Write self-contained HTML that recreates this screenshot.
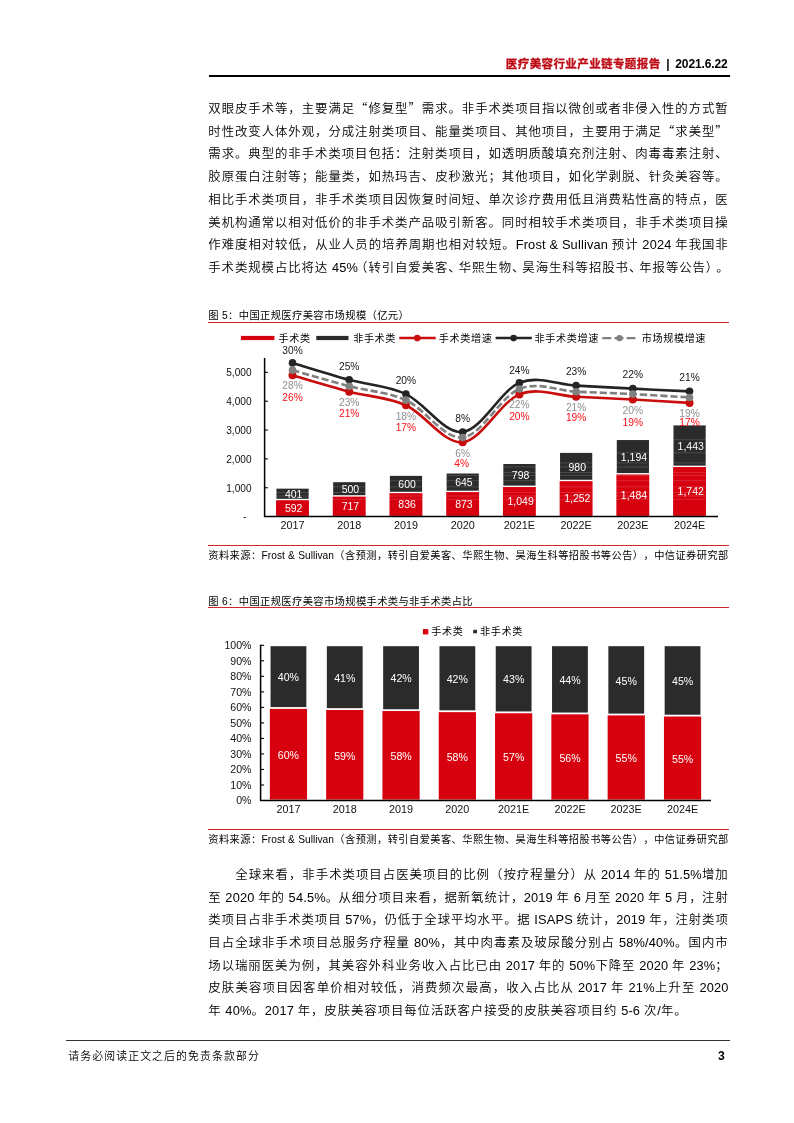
<!DOCTYPE html>
<html lang="zh-CN"><head><meta charset="utf-8"><title>医疗美容行业产业链专题报告</title>
<style>
html,body{margin:0;padding:0;background:#fff}
body{width:794px;height:1123px;position:relative;overflow:hidden;text-spacing-trim:space-all;font-family:"Liberation Sans","Noto Sans CJK SC",sans-serif;color:#000}
.l{position:absolute;left:208.3px;width:520.4px;height:22px;line-height:22px;font-size:12.4px;letter-spacing:0.93px;font-weight:350;text-align:justify;text-align-last:justify;white-space:nowrap;color:#000}
.e{font-size:12.8px;letter-spacing:0.17px;font-weight:400}
.l.last{text-align:left;text-align-last:left}
.h{font-family:"Noto Sans CJK SC",sans-serif}
.hdr{position:absolute;right:66.4px;top:53.6px;height:20px;line-height:20px;font-size:12px;letter-spacing:-0.12px;font-weight:bold;white-space:nowrap;color:#000}
.hdr b{color:#be0a14;font-weight:bold;font-size:11.5px;letter-spacing:0.4px;-webkit-text-stroke:0.3px #be0a14;position:relative;left:-1px;top:0.4px}
.hdr i{font-style:normal;margin:0 2.7px 0 1.4px}
.hr{position:absolute;left:208.6px;width:521.1px;top:74.8px;height:1.9px;background:#000}
.cap{position:absolute;left:208.2px;height:16px;line-height:16px;font-size:10.3px;letter-spacing:0.35px;white-space:nowrap;color:#000}
.rr{position:absolute;left:207.7px;width:521px;height:1.1px;background:#d1262f}
.src{position:absolute;left:208.3px;width:520px;height:16px;line-height:16px;font-size:10.2px;white-space:nowrap;color:#000;text-align:justify;text-align-last:justify}
.fr{position:absolute;left:66px;width:663.8px;top:1039.8px;height:1.3px;background:#333}
.ft{position:absolute;left:68.2px;top:1046.8px;height:18px;line-height:18px;font-size:10.9px;letter-spacing:1.1px;font-weight:350;color:#000;white-space:nowrap}
.pn{position:absolute;right:69.2px;top:1046.6px;height:18px;line-height:18px;font-size:12.2px;font-weight:bold;color:#000}
svg{position:absolute;left:0;top:0}
svg text{font-family:"Liberation Sans","Noto Sans CJK SC",sans-serif}
</style></head><body>
<div class="hdr"><b>医疗美容行业产业链专题报告</b>&nbsp;<i>|</i>&nbsp;2021.6.22</div><div class="hr"></div>
<div class="l" style="top:96.80px">双眼皮手术等<span class="h">，</span>主要满足<span class="h">“</span>修复型<span class="h">”</span>需求<span class="h">。</span>非手术类项目指以微创或者非侵入性的方式暂</div>
<div class="l" style="top:119.56px">时性改变人体外观<span class="h">，</span>分成注射类项目<span class="h">、</span>能量类项目<span class="h">、</span>其他项目<span class="h">，</span>主要用于满足<span class="h">“</span>求美型<span class="h">”</span></div>
<div class="l" style="top:142.32px">需求<span class="h">。</span>典型的非手术类项目包括<span class="h">：</span>注射类项目<span class="h">，</span>如透明质酸填充剂注射<span class="h">、</span>肉毒毒素注射<span class="h">、</span></div>
<div class="l" style="top:165.08px">胶原蛋白注射等<span class="h">；</span>能量类<span class="h">，</span>如热玛吉<span class="h">、</span>皮秒激光<span class="h">；</span>其他项目<span class="h">，</span>如化学剥脱<span class="h">、</span>针灸美容等<span class="h">。</span></div>
<div class="l" style="top:187.84px">相比手术类项目<span class="h">，</span>非手术类项目因恢复时间短<span class="h">、</span>单次诊疗费用低且消费粘性高的特点<span class="h">，</span>医</div>
<div class="l" style="top:210.60px">美机构通常以相对低价的非手术类产品吸引新客<span class="h">。</span>同时相较手术类项目<span class="h">，</span>非手术类项目操</div>
<div class="l" style="top:233.36px">作难度相对较低<span class="h">，</span>从业人员的培养周期也相对较短<span class="h">。</span><span class="e">Frost &amp; Sullivan </span>预计<span class="e"> 2024 </span>年我国非</div>
<div class="l" style="top:256.12px;left:208.3px;width:518.2px">手术类规模占比将达<span class="e"> 45%</span><span class="h" style="margin-left:-2.99px">（</span>转引自爱美客<span class="h" style="margin-right:-2.99px">、</span>华熙生物<span class="h" style="margin-right:-2.99px">、</span>昊海生科等招股书<span class="h" style="margin-right:-2.99px">、</span>年报等公告<span class="h" style="margin-right:-2.99px">）</span><span class="h" style="margin-right:-2.99px">。</span></div>
<div class="l" style="top:862.90px;left:235.3px;width:493.4px">全球来看<span class="h">，</span>非手术类项目占医美项目的比例<span class="h">（</span>按疗程量分<span class="h">）</span>从<span class="e"> 2014 </span>年的<span class="e"> 51.5%</span>增加</div>
<div class="l" style="top:885.55px">至<span class="e"> 2020 </span>年的<span class="e"> 54.5%</span><span class="h" style="margin-right:-0.63px">。</span>从细分项目来看<span class="h" style="margin-right:-0.63px">，</span>据新氧统计<span class="h" style="margin-right:-0.63px">，</span><span class="e">2019 </span>年<span class="e"> 6 </span>月至<span class="e"> 2020 </span>年<span class="e"> 5 </span>月<span class="h" style="margin-right:-0.63px">，</span>注射</div>
<div class="l" style="top:908.20px">类项目占非手术类项目<span class="e"> 57%</span><span class="h" style="margin-right:-0.34px">，</span>仍低于全球平均水平<span class="h" style="margin-right:-0.34px">。</span>据<span class="e"> ISAPS </span>统计<span class="h" style="margin-right:-0.34px">，</span><span class="e">2019 </span>年<span class="h" style="margin-right:-0.34px">，</span>注射类项</div>
<div class="l" style="top:930.85px">目占全球非手术项目总服务疗程量<span class="e"> 80%</span><span class="h">，</span>其中肉毒素及玻尿酸分别占<span class="e"> 58%/40%</span><span class="h">。</span>国内市</div>
<div class="l" style="top:953.50px">场以瑞丽医美为例<span class="h">，</span>其美容外科业务收入占比已由<span class="e"> 2017 </span>年的<span class="e"> 50%</span>下降至<span class="e"> 2020 </span>年<span class="e"> 23%</span><span class="h">；</span></div>
<div class="l" style="top:976.15px">皮肤美容项目因客单价相对较低<span class="h">，</span>消费频次最高<span class="h">，</span>收入占比从<span class="e"> 2017 </span>年<span class="e"> 21%</span>上升至<span class="e"> 2020</span></div>
<div class="l last" style="top:998.80px">年<span class="e"> 40%</span><span class="h">。</span><span class="e">2017 </span>年<span class="h">，</span>皮肤美容项目每位活跃客户接受的皮肤美容项目约<span class="e"> 5-6 </span>次<span class="e">/</span>年<span class="h">。</span></div>
<div class="cap" style="top:308.1px">图 5：中国正规医疗美容市场规模（亿元）</div><div class="rr" style="top:321.9px"></div>
<div class="rr" style="top:544.9px"></div><div class="src" style="top:547.8px">资料来源：Frost &amp; Sullivan（含预测，转引自爱美客、华熙生物、昊海生科等招股书等公告），中信证券研究部</div>
<div class="cap" style="top:593.8px">图 6：中国正规医疗美容市场规模手术类与非手术类占比</div><div class="rr" style="top:607.4px"></div>
<div class="rr" style="top:828.9px"></div><div class="src" style="top:831.8px">资料来源：Frost &amp; Sullivan（含预测，转引自爱美客、华熙生物、昊海生科等招股书等公告），中信证券研究部</div>
<svg width="794" height="1123" viewBox="0 0 794 1123">
<rect x="276.05" y="500.22" width="32.90" height="15.68" fill="#d7000f"/>
<rect x="276.45" y="488.65" width="32.20" height="10.17" fill="#2b2b2b"/>
<path d="M276.05 492.50 h32.90" stroke="#fff" stroke-opacity="0.17" stroke-width="0.9"/>
<path d="M276.05 496.00 h32.90" stroke="#fff" stroke-opacity="0.17" stroke-width="0.9"/>
<text x="293.7" y="512.0" font-size="10.5" fill="#fff" text-anchor="middle">592</text>
<text x="293.7" y="498.0" font-size="10.5" fill="#fff" text-anchor="middle">401</text>
<text x="292.5" y="528.7" font-size="10.8" fill="#111" text-anchor="middle">2017</text>
<rect x="332.77" y="496.61" width="32.90" height="19.29" fill="#d7000f"/>
<rect x="333.17" y="482.19" width="32.20" height="13.03" fill="#2b2b2b"/>
<path d="M332.77 486.80 h32.90" stroke="#fff" stroke-opacity="0.17" stroke-width="0.9"/>
<path d="M332.77 492.50 h32.90" stroke="#fff" stroke-opacity="0.17" stroke-width="0.9"/>
<path d="M332.77 499.30 h32.90" stroke="#fff" stroke-opacity="0.17" stroke-width="0.9"/>
<text x="350.4" y="510.2" font-size="10.5" fill="#fff" text-anchor="middle">717</text>
<text x="350.4" y="493.0" font-size="10.5" fill="#fff" text-anchor="middle">500</text>
<text x="349.2" y="528.7" font-size="10.8" fill="#111" text-anchor="middle">2018</text>
<rect x="389.49" y="493.18" width="32.90" height="22.72" fill="#d7000f"/>
<rect x="389.89" y="475.87" width="32.20" height="15.91" fill="#2b2b2b"/>
<path d="M389.49 480.70 h32.90" stroke="#fff" stroke-opacity="0.17" stroke-width="0.9"/>
<path d="M389.49 486.80 h32.90" stroke="#fff" stroke-opacity="0.17" stroke-width="0.9"/>
<path d="M389.49 496.00 h32.90" stroke="#fff" stroke-opacity="0.17" stroke-width="0.9"/>
<path d="M389.49 499.30 h32.90" stroke="#fff" stroke-opacity="0.17" stroke-width="0.9"/>
<text x="407.1" y="508.4" font-size="10.5" fill="#fff" text-anchor="middle">836</text>
<text x="407.1" y="488.1" font-size="10.5" fill="#fff" text-anchor="middle">600</text>
<text x="405.9" y="528.7" font-size="10.8" fill="#111" text-anchor="middle">2019</text>
<rect x="446.21" y="492.11" width="32.90" height="23.79" fill="#d7000f"/>
<rect x="446.61" y="473.51" width="32.20" height="17.21" fill="#2b2b2b"/>
<path d="M446.21 475.40 h32.90" stroke="#fff" stroke-opacity="0.17" stroke-width="0.9"/>
<path d="M446.21 480.70 h32.90" stroke="#fff" stroke-opacity="0.17" stroke-width="0.9"/>
<path d="M446.21 486.80 h32.90" stroke="#fff" stroke-opacity="0.17" stroke-width="0.9"/>
<path d="M446.21 496.00 h32.90" stroke="#fff" stroke-opacity="0.17" stroke-width="0.9"/>
<path d="M446.21 499.30 h32.90" stroke="#fff" stroke-opacity="0.17" stroke-width="0.9"/>
<text x="463.9" y="507.9" font-size="10.5" fill="#fff" text-anchor="middle">873</text>
<text x="463.9" y="486.4" font-size="10.5" fill="#fff" text-anchor="middle">645</text>
<text x="462.7" y="528.7" font-size="10.8" fill="#111" text-anchor="middle">2020</text>
<rect x="502.93" y="487.04" width="32.90" height="28.86" fill="#d7000f"/>
<rect x="503.33" y="464.01" width="32.20" height="21.62" fill="#2b2b2b"/>
<path d="M502.93 466.90 h32.90" stroke="#fff" stroke-opacity="0.17" stroke-width="0.9"/>
<path d="M502.93 472.60 h32.90" stroke="#fff" stroke-opacity="0.17" stroke-width="0.9"/>
<path d="M502.93 475.40 h32.90" stroke="#fff" stroke-opacity="0.17" stroke-width="0.9"/>
<path d="M502.93 480.70 h32.90" stroke="#fff" stroke-opacity="0.17" stroke-width="0.9"/>
<path d="M502.93 492.50 h32.90" stroke="#fff" stroke-opacity="0.17" stroke-width="0.9"/>
<path d="M502.93 496.00 h32.90" stroke="#fff" stroke-opacity="0.17" stroke-width="0.9"/>
<path d="M502.93 499.30 h32.90" stroke="#fff" stroke-opacity="0.17" stroke-width="0.9"/>
<text x="520.6" y="505.4" font-size="10.5" fill="#fff" text-anchor="middle">1,049</text>
<text x="520.6" y="479.1" font-size="10.5" fill="#fff" text-anchor="middle">798</text>
<text x="519.4" y="528.7" font-size="10.8" fill="#111" text-anchor="middle">2021E</text>
<rect x="559.65" y="481.18" width="32.90" height="34.72" fill="#d7000f"/>
<rect x="560.05" y="452.91" width="32.20" height="26.87" fill="#2b2b2b"/>
<path d="M559.65 462.90 h32.90" stroke="#fff" stroke-opacity="0.17" stroke-width="0.9"/>
<path d="M559.65 466.90 h32.90" stroke="#fff" stroke-opacity="0.17" stroke-width="0.9"/>
<path d="M559.65 472.60 h32.90" stroke="#fff" stroke-opacity="0.17" stroke-width="0.9"/>
<path d="M559.65 475.40 h32.90" stroke="#fff" stroke-opacity="0.17" stroke-width="0.9"/>
<path d="M559.65 486.80 h32.90" stroke="#fff" stroke-opacity="0.17" stroke-width="0.9"/>
<path d="M559.65 492.50 h32.90" stroke="#fff" stroke-opacity="0.17" stroke-width="0.9"/>
<path d="M559.65 496.00 h32.90" stroke="#fff" stroke-opacity="0.17" stroke-width="0.9"/>
<path d="M559.65 499.30 h32.90" stroke="#fff" stroke-opacity="0.17" stroke-width="0.9"/>
<text x="577.3" y="502.4" font-size="10.5" fill="#fff" text-anchor="middle">1,252</text>
<text x="577.3" y="470.6" font-size="10.5" fill="#fff" text-anchor="middle">980</text>
<text x="576.1" y="528.7" font-size="10.8" fill="#111" text-anchor="middle">2022E</text>
<rect x="616.37" y="474.49" width="32.90" height="41.41" fill="#d7000f"/>
<rect x="616.77" y="440.04" width="32.20" height="33.05" fill="#2b2b2b"/>
<path d="M616.37 452.80 h32.90" stroke="#fff" stroke-opacity="0.17" stroke-width="0.9"/>
<path d="M616.37 462.90 h32.90" stroke="#fff" stroke-opacity="0.17" stroke-width="0.9"/>
<path d="M616.37 466.90 h32.90" stroke="#fff" stroke-opacity="0.17" stroke-width="0.9"/>
<path d="M616.37 475.40 h32.90" stroke="#fff" stroke-opacity="0.17" stroke-width="0.9"/>
<path d="M616.37 480.70 h32.90" stroke="#fff" stroke-opacity="0.17" stroke-width="0.9"/>
<path d="M616.37 486.80 h32.90" stroke="#fff" stroke-opacity="0.17" stroke-width="0.9"/>
<path d="M616.37 492.50 h32.90" stroke="#fff" stroke-opacity="0.17" stroke-width="0.9"/>
<path d="M616.37 496.00 h32.90" stroke="#fff" stroke-opacity="0.17" stroke-width="0.9"/>
<path d="M616.37 499.30 h32.90" stroke="#fff" stroke-opacity="0.17" stroke-width="0.9"/>
<text x="634.0" y="499.1" font-size="10.5" fill="#fff" text-anchor="middle">1,484</text>
<text x="634.0" y="460.9" font-size="10.5" fill="#fff" text-anchor="middle">1,194</text>
<text x="632.8" y="528.7" font-size="10.8" fill="#111" text-anchor="middle">2023E</text>
<rect x="673.09" y="467.04" width="32.90" height="48.86" fill="#d7000f"/>
<rect x="673.49" y="425.41" width="32.20" height="40.23" fill="#2b2b2b"/>
<path d="M673.09 439.70 h32.90" stroke="#fff" stroke-opacity="0.17" stroke-width="0.9"/>
<path d="M673.09 452.80 h32.90" stroke="#fff" stroke-opacity="0.17" stroke-width="0.9"/>
<path d="M673.09 462.90 h32.90" stroke="#fff" stroke-opacity="0.17" stroke-width="0.9"/>
<path d="M673.09 472.60 h32.90" stroke="#fff" stroke-opacity="0.17" stroke-width="0.9"/>
<path d="M673.09 475.40 h32.90" stroke="#fff" stroke-opacity="0.17" stroke-width="0.9"/>
<path d="M673.09 480.70 h32.90" stroke="#fff" stroke-opacity="0.17" stroke-width="0.9"/>
<path d="M673.09 486.80 h32.90" stroke="#fff" stroke-opacity="0.17" stroke-width="0.9"/>
<path d="M673.09 492.50 h32.90" stroke="#fff" stroke-opacity="0.17" stroke-width="0.9"/>
<path d="M673.09 496.00 h32.90" stroke="#fff" stroke-opacity="0.17" stroke-width="0.9"/>
<path d="M673.09 499.30 h32.90" stroke="#fff" stroke-opacity="0.17" stroke-width="0.9"/>
<text x="690.7" y="495.4" font-size="10.5" fill="#fff" text-anchor="middle">1,742</text>
<text x="690.7" y="449.8" font-size="10.5" fill="#fff" text-anchor="middle">1,443</text>
<text x="689.5" y="528.7" font-size="10.8" fill="#111" text-anchor="middle">2024E</text>
<path d="M264.6 357.9 V516.6 H718.0" fill="none" stroke="#000" stroke-width="1.5"/>
<path d="M264.6 487.75 h3.3" stroke="#000" stroke-width="1.1"/>
<text x="251.5" y="491.6" font-size="10.1" fill="#111" text-anchor="end">1,000</text>
<path d="M264.6 458.90 h3.3" stroke="#000" stroke-width="1.1"/>
<text x="251.5" y="462.7" font-size="10.1" fill="#111" text-anchor="end">2,000</text>
<path d="M264.6 430.05 h3.3" stroke="#000" stroke-width="1.1"/>
<text x="251.5" y="433.9" font-size="10.1" fill="#111" text-anchor="end">3,000</text>
<path d="M264.6 401.20 h3.3" stroke="#000" stroke-width="1.1"/>
<text x="251.5" y="405.0" font-size="10.1" fill="#111" text-anchor="end">4,000</text>
<path d="M264.6 372.35 h3.3" stroke="#000" stroke-width="1.1"/>
<text x="251.5" y="376.2" font-size="10.1" fill="#111" text-anchor="end">5,000</text>
<text x="246.3" y="519.8" font-size="10.1" fill="#111" text-anchor="end">-</text>
<path d="M292.50 375.30 C301.95 378.03 330.31 386.67 349.22 391.67 C368.13 396.67 387.03 396.87 405.94 405.30 C424.85 413.74 443.75 444.09 462.66 442.27 C481.57 440.45 500.47 401.97 519.38 394.39 C538.29 386.82 557.19 395.96 576.10 396.82 C595.01 397.68 613.91 398.53 632.82 399.54 C651.73 400.55 680.09 402.32 689.54 402.88" fill="none" stroke="#c90c0c" stroke-width="2.6" stroke-linejoin="round"/>
<circle cx="292.50" cy="375.30" r="4.0" fill="#c90c0c"/>
<circle cx="349.22" cy="391.67" r="4.0" fill="#c90c0c"/>
<circle cx="405.94" cy="405.30" r="4.0" fill="#c90c0c"/>
<circle cx="462.66" cy="442.27" r="4.0" fill="#c90c0c"/>
<circle cx="519.38" cy="394.39" r="4.0" fill="#c90c0c"/>
<circle cx="576.10" cy="396.82" r="4.0" fill="#c90c0c"/>
<circle cx="632.82" cy="399.54" r="4.0" fill="#c90c0c"/>
<circle cx="689.54" cy="402.88" r="4.0" fill="#c90c0c"/>
<path d="M292.50 362.89 C301.95 365.72 330.31 374.66 349.22 379.86 C368.13 385.06 387.03 385.41 405.94 394.10 C424.85 402.79 443.75 433.84 462.66 431.97 C481.57 430.11 500.47 390.62 519.38 382.89 C538.29 375.16 557.19 384.66 576.10 385.62 C595.01 386.58 613.91 387.69 632.82 388.65 C651.73 389.61 680.09 390.92 689.54 391.37" fill="none" stroke="#242424" stroke-width="2.6" stroke-linejoin="round"/>
<circle cx="292.50" cy="362.89" r="3.8" fill="#242424"/>
<circle cx="349.22" cy="379.86" r="3.8" fill="#242424"/>
<circle cx="405.94" cy="394.10" r="3.8" fill="#242424"/>
<circle cx="462.66" cy="431.97" r="3.8" fill="#242424"/>
<circle cx="519.38" cy="382.89" r="3.8" fill="#242424"/>
<circle cx="576.10" cy="385.62" r="3.8" fill="#242424"/>
<circle cx="632.82" cy="388.65" r="3.8" fill="#242424"/>
<circle cx="689.54" cy="391.37" r="3.8" fill="#242424"/>
<path d="M292.50 370.16 C301.95 372.84 330.31 381.22 349.22 386.22 C368.13 391.22 387.03 391.63 405.94 400.16 C424.85 408.69 443.75 439.30 462.66 437.43 C481.57 435.56 500.47 396.57 519.38 388.95 C538.29 381.32 557.19 390.82 576.10 391.68 C595.01 392.53 613.91 393.14 632.82 394.10 C651.73 395.06 680.09 396.88 689.54 397.43" fill="none" stroke="#808080" stroke-width="2.6" stroke-linejoin="round" stroke-dasharray="7.2 2.9"/>
<circle cx="292.50" cy="370.16" r="3.8" fill="#808080"/>
<circle cx="349.22" cy="386.22" r="3.8" fill="#808080"/>
<circle cx="405.94" cy="400.16" r="3.8" fill="#808080"/>
<circle cx="462.66" cy="437.43" r="3.8" fill="#808080"/>
<circle cx="519.38" cy="388.95" r="3.8" fill="#808080"/>
<circle cx="576.10" cy="391.68" r="3.8" fill="#808080"/>
<circle cx="632.82" cy="394.10" r="3.8" fill="#808080"/>
<circle cx="689.54" cy="397.43" r="3.8" fill="#808080"/>
<text x="292.5" y="353.7" font-size="10.2" fill="#151515" text-anchor="middle">30%</text>
<text x="292.5" y="389.3" font-size="10.2" fill="#8e8e8e" text-anchor="middle">28%</text>
<text x="292.5" y="401.0" font-size="10.2" fill="#fa0f14" text-anchor="middle">26%</text>
<text x="349.2" y="370.3" font-size="10.2" fill="#151515" text-anchor="middle">25%</text>
<text x="349.2" y="405.7" font-size="10.2" fill="#8e8e8e" text-anchor="middle">23%</text>
<text x="349.2" y="417.4" font-size="10.2" fill="#fa0f14" text-anchor="middle">21%</text>
<text x="405.9" y="384.1" font-size="10.2" fill="#151515" text-anchor="middle">20%</text>
<text x="405.9" y="419.5" font-size="10.2" fill="#8e8e8e" text-anchor="middle">18%</text>
<text x="405.9" y="431.2" font-size="10.2" fill="#fa0f14" text-anchor="middle">17%</text>
<text x="462.7" y="422.2" font-size="10.2" fill="#151515" text-anchor="middle">8%</text>
<text x="462.7" y="457.3" font-size="10.2" fill="#8e8e8e" text-anchor="middle">6%</text>
<text x="461.7" y="467.4" font-size="10.2" fill="#fa0f14" text-anchor="middle">4%</text>
<text x="519.4" y="373.5" font-size="10.2" fill="#151515" text-anchor="middle">24%</text>
<text x="519.4" y="408.3" font-size="10.2" fill="#8e8e8e" text-anchor="middle">22%</text>
<text x="519.4" y="420.1" font-size="10.2" fill="#fa0f14" text-anchor="middle">20%</text>
<text x="576.1" y="375.0" font-size="10.2" fill="#151515" text-anchor="middle">23%</text>
<text x="576.1" y="411.4" font-size="10.2" fill="#8e8e8e" text-anchor="middle">21%</text>
<text x="576.1" y="421.2" font-size="10.2" fill="#fa0f14" text-anchor="middle">19%</text>
<text x="632.8" y="378.2" font-size="10.2" fill="#151515" text-anchor="middle">22%</text>
<text x="632.8" y="413.7" font-size="10.2" fill="#8e8e8e" text-anchor="middle">20%</text>
<text x="632.8" y="425.7" font-size="10.2" fill="#fa0f14" text-anchor="middle">19%</text>
<text x="689.5" y="380.9" font-size="10.2" fill="#151515" text-anchor="middle">21%</text>
<text x="689.5" y="417.1" font-size="10.2" fill="#8e8e8e" text-anchor="middle">19%</text>
<text x="689.5" y="426.0" font-size="10.2" fill="#fa0f14" text-anchor="middle">17%</text>
<rect x="240.9" y="335.9" width="33.5" height="4.2" fill="#d7000f"/>
<text x="278.6" y="342.2" font-size="10.1" fill="#000" text-anchor="start" letter-spacing="0.62">手术类</text>
<rect x="316.3" y="335.9" width="32.2" height="4.2" fill="#2b2b2b"/>
<text x="353.2" y="342.2" font-size="10.1" fill="#000" text-anchor="start" letter-spacing="0.62">非手术类</text>
<path d="M399.3 338.1 H435.7" stroke="#c90c0c" stroke-width="2.5"/><circle cx="417.3" cy="338.1" r="3.3" fill="#c90c0c"/>
<text x="438.8" y="342.2" font-size="10.1" fill="#000" text-anchor="start" letter-spacing="0.62">手术类增速</text>
<path d="M495.6 338.1 H531.8" stroke="#242424" stroke-width="2.5"/><circle cx="513.6" cy="338.1" r="3.3" fill="#242424"/>
<text x="534.6" y="342.2" font-size="10.1" fill="#000" text-anchor="start" letter-spacing="0.62">非手术类增速</text>
<path d="M602.3 338.1 H635.5" stroke="#808080" stroke-width="2.4" stroke-dasharray="9 3.2"/><circle cx="619.5" cy="338.1" r="3.2" fill="#808080"/>
<text x="641.8" y="342.2" font-size="10.1" fill="#000" text-anchor="start" letter-spacing="0.62">市场规模增速</text>
<rect x="269.85" y="708.87" width="37.20" height="90.73" fill="#d7000f"/>
<rect x="270.55" y="646.20" width="35.80" height="60.87" fill="#2b2b2b"/>
<text x="288.4" y="759.0" font-size="10.6" fill="#fff" text-anchor="middle">60%</text>
<text x="288.4" y="681.2" font-size="10.6" fill="#fff" text-anchor="middle">40%</text>
<text x="288.4" y="813.3" font-size="10.8" fill="#111" text-anchor="middle">2017</text>
<rect x="326.15" y="709.96" width="37.20" height="89.64" fill="#d7000f"/>
<rect x="326.85" y="646.20" width="35.80" height="61.96" fill="#2b2b2b"/>
<text x="344.8" y="759.6" font-size="10.6" fill="#fff" text-anchor="middle">59%</text>
<text x="344.8" y="681.8" font-size="10.6" fill="#fff" text-anchor="middle">41%</text>
<text x="344.8" y="813.3" font-size="10.8" fill="#111" text-anchor="middle">2018</text>
<rect x="382.45" y="711.05" width="37.20" height="88.55" fill="#d7000f"/>
<rect x="383.15" y="646.20" width="35.80" height="63.05" fill="#2b2b2b"/>
<text x="401.1" y="760.1" font-size="10.6" fill="#fff" text-anchor="middle">58%</text>
<text x="401.1" y="682.3" font-size="10.6" fill="#fff" text-anchor="middle">42%</text>
<text x="401.1" y="813.3" font-size="10.8" fill="#111" text-anchor="middle">2019</text>
<rect x="438.75" y="712.14" width="37.20" height="87.46" fill="#d7000f"/>
<rect x="439.45" y="646.20" width="35.80" height="64.14" fill="#2b2b2b"/>
<text x="457.3" y="760.7" font-size="10.6" fill="#fff" text-anchor="middle">58%</text>
<text x="457.3" y="682.9" font-size="10.6" fill="#fff" text-anchor="middle">42%</text>
<text x="457.3" y="813.3" font-size="10.8" fill="#111" text-anchor="middle">2020</text>
<rect x="495.05" y="713.25" width="37.20" height="86.35" fill="#d7000f"/>
<rect x="495.75" y="646.20" width="35.80" height="65.25" fill="#2b2b2b"/>
<text x="513.7" y="761.2" font-size="10.6" fill="#fff" text-anchor="middle">57%</text>
<text x="513.7" y="683.4" font-size="10.6" fill="#fff" text-anchor="middle">43%</text>
<text x="513.7" y="813.3" font-size="10.8" fill="#111" text-anchor="middle">2021E</text>
<rect x="551.35" y="714.34" width="37.20" height="85.26" fill="#d7000f"/>
<rect x="552.05" y="646.20" width="35.80" height="66.34" fill="#2b2b2b"/>
<text x="570.0" y="761.8" font-size="10.6" fill="#fff" text-anchor="middle">56%</text>
<text x="570.0" y="684.0" font-size="10.6" fill="#fff" text-anchor="middle">44%</text>
<text x="570.0" y="813.3" font-size="10.8" fill="#111" text-anchor="middle">2022E</text>
<rect x="607.65" y="715.40" width="37.20" height="84.20" fill="#d7000f"/>
<rect x="608.35" y="646.20" width="35.80" height="67.40" fill="#2b2b2b"/>
<text x="626.2" y="762.3" font-size="10.6" fill="#fff" text-anchor="middle">55%</text>
<text x="626.2" y="684.5" font-size="10.6" fill="#fff" text-anchor="middle">45%</text>
<text x="626.2" y="813.3" font-size="10.8" fill="#111" text-anchor="middle">2023E</text>
<rect x="663.95" y="716.52" width="37.20" height="83.08" fill="#d7000f"/>
<rect x="664.65" y="646.20" width="35.80" height="68.52" fill="#2b2b2b"/>
<text x="682.6" y="762.9" font-size="10.6" fill="#fff" text-anchor="middle">55%</text>
<text x="682.6" y="685.1" font-size="10.6" fill="#fff" text-anchor="middle">45%</text>
<text x="682.6" y="813.3" font-size="10.8" fill="#111" text-anchor="middle">2024E</text>
<path d="M260.6 644.8 V800.5 H711.0" fill="none" stroke="#000" stroke-width="1.5"/>
<path d="M260.6 784.98 h3.5" stroke="#000" stroke-width="1.1"/>
<path d="M260.6 769.46 h3.5" stroke="#000" stroke-width="1.1"/>
<path d="M260.6 753.94 h3.5" stroke="#000" stroke-width="1.1"/>
<path d="M260.6 738.42 h3.5" stroke="#000" stroke-width="1.1"/>
<path d="M260.6 722.90 h3.5" stroke="#000" stroke-width="1.1"/>
<path d="M260.6 707.38 h3.5" stroke="#000" stroke-width="1.1"/>
<path d="M260.6 691.86 h3.5" stroke="#000" stroke-width="1.1"/>
<path d="M260.6 676.34 h3.5" stroke="#000" stroke-width="1.1"/>
<path d="M260.6 660.82 h3.5" stroke="#000" stroke-width="1.1"/>
<path d="M260.6 645.30 h3.5" stroke="#000" stroke-width="1.1"/>
<text x="251.5" y="804.3" font-size="10.6" fill="#111" text-anchor="end">0%</text>
<text x="251.5" y="788.8" font-size="10.6" fill="#111" text-anchor="end">10%</text>
<text x="251.5" y="773.3" font-size="10.6" fill="#111" text-anchor="end">20%</text>
<text x="251.5" y="757.7" font-size="10.6" fill="#111" text-anchor="end">30%</text>
<text x="251.5" y="742.2" font-size="10.6" fill="#111" text-anchor="end">40%</text>
<text x="251.5" y="726.7" font-size="10.6" fill="#111" text-anchor="end">50%</text>
<text x="251.5" y="711.2" font-size="10.6" fill="#111" text-anchor="end">60%</text>
<text x="251.5" y="695.7" font-size="10.6" fill="#111" text-anchor="end">70%</text>
<text x="251.5" y="680.1" font-size="10.6" fill="#111" text-anchor="end">80%</text>
<text x="251.5" y="664.6" font-size="10.6" fill="#111" text-anchor="end">90%</text>
<text x="251.5" y="649.1" font-size="10.6" fill="#111" text-anchor="end">100%</text>
<rect x="422.9" y="629.1" width="5.4" height="5.3" fill="#d7000f"/>
<text x="431.3" y="634.6" font-size="10.1" fill="#000" text-anchor="start" letter-spacing="0.62">手术类</text>
<rect x="473.2" y="629.8" width="3.8" height="3.5" fill="#2b2b2b"/>
<text x="480.0" y="634.6" font-size="10.1" fill="#000" text-anchor="start" letter-spacing="0.62">非手术类</text>
</svg>
<div class="fr"></div><div class="ft">请务必阅读正文之后的免责条款部分</div><div class="pn">3</div>
</body></html>
